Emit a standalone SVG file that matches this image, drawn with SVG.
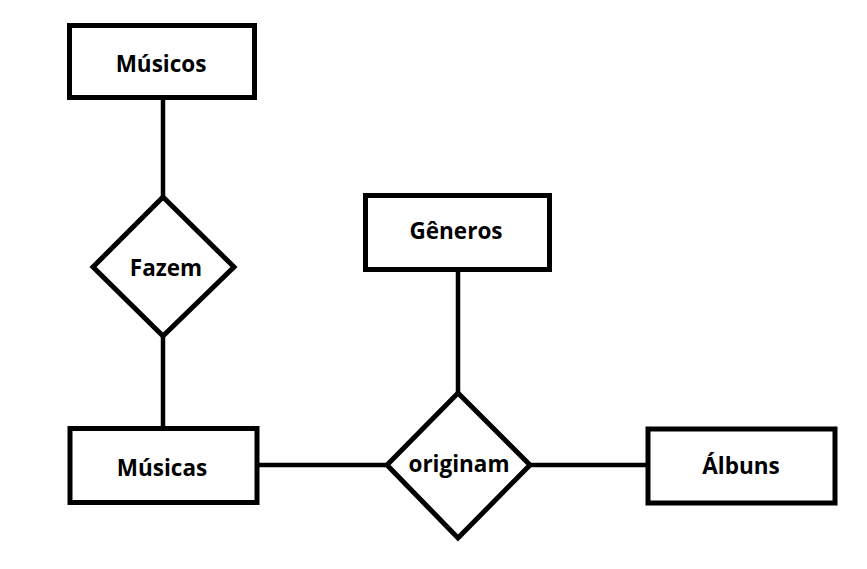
<svg xmlns="http://www.w3.org/2000/svg" width="867" height="569" viewBox="0 0 867 569">
<style>
.s{fill:#fff;stroke:#000;stroke-width:5}
.c{stroke:#000;stroke-width:4.5;fill:none}
text{font-family:"Open Sans","Liberation Sans",sans-serif;font-weight:700;font-size:22.5px;fill:#000;text-anchor:middle;dominant-baseline:central}
</style>
<rect width="867" height="569" fill="#fff"/>
<g id="connectors">
<line class="c" x1="163" y1="97" x2="163" y2="196"/>
<line class="c" x1="163" y1="337" x2="163" y2="427"/>
<line class="c" x1="458" y1="271" x2="458" y2="392"/>
<line class="c" x1="258" y1="465" x2="386" y2="465"/>
<line class="c" x1="531" y1="465" x2="647" y2="465"/>
</g>
<g id="musicos">
<rect class="s" x="69.5" y="25.5" width="185" height="72"/>
<text x="161" y="63">Músicos</text>
</g>
<g id="fazem">
<polygon class="s" points="163,197 234,267 163,336 93,267"/>
<text x="166" y="267">Fazem</text>
</g>
<g id="musicas">
<rect class="s" x="70" y="428.5" width="187" height="74"/>
<text x="162" y="467">Músicas</text>
</g>
<g id="generos">
<rect class="s" x="365.5" y="195.5" width="184" height="74"/>
<text x="456" y="230">Gêneros</text>
</g>
<g id="originam">
<polygon class="s" points="458,393 530,465 458,538 387,465"/>
<text x="459" y="463">originam</text>
</g>
<g id="albuns">
<rect class="s" x="648" y="429" width="187" height="74"/>
<text x="741" y="465">Álbuns</text>
</g>
</svg>
